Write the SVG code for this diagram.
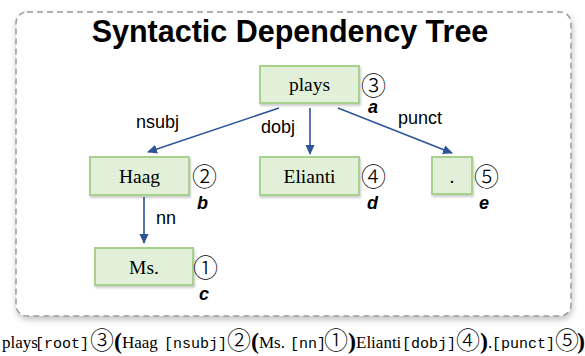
<svg xmlns="http://www.w3.org/2000/svg" width="585" height="356" viewBox="0 0 585 356">
<defs>
  <filter id="shadow" x="-10%" y="-10%" width="120%" height="130%">
    <feGaussianBlur in="SourceAlpha" stdDeviation="3"/>
    <feOffset dx="1" dy="3" result="b"/>
    <feComponentTransfer><feFuncA type="linear" slope="0.25"/></feComponentTransfer>
    <feMerge><feMergeNode/><feMergeNode in="SourceGraphic"/></feMerge>
  </filter>
  <filter id="nshadow" x="-10%" y="-10%" width="130%" height="140%">
    <feGaussianBlur in="SourceAlpha" stdDeviation="1"/>
    <feOffset dx="1" dy="1.5" result="b"/>
    <feComponentTransfer><feFuncA type="linear" slope="0.2"/></feComponentTransfer>
    <feMerge><feMergeNode/><feMergeNode in="SourceGraphic"/></feMerge>
  </filter>
  <marker id="arr" markerWidth="10" markerHeight="10" refX="9" refY="5" orient="auto" markerUnits="userSpaceOnUse">
    <path d="M0,0.5 L10,5 L0,9.5 Z" fill="#2f5597"/>
  </marker>
  <style>
    .node rect { fill: #e2f0d9; stroke: #a9d18e; stroke-width: 2; }
    .word { font-family: "Liberation Serif", "Times New Roman", serif; font-size: 19.5px; fill: #000; text-anchor: middle; }
    .circ { font-family: "Noto Sans CJK JP", "DejaVu Sans", sans-serif; font-size: 25px; font-weight: 300; fill: #000; }
    .tag { font-family: "Liberation Sans", Arial, sans-serif; font-size: 18px; font-weight: bold; font-style: italic; fill: #000; }
    .lbl { font-family: "Liberation Sans", Arial, sans-serif; font-size: 18px; fill: #000; }
    .edge { stroke: #2f5597; stroke-width: 1.6; fill: none; marker-end: url(#arr); }
    .bs { font-family: "Liberation Serif", "Times New Roman", serif; font-size: 17px; }
    .bm { font-family: "Liberation Mono", "Courier New", monospace; font-size: 15px; }
    .bc { font-family: "Noto Sans CJK JP", "DejaVu Sans", sans-serif; font-size: 24px; font-weight: 300; }
    .bp { font-family: "Liberation Serif", "Times New Roman", serif; font-size: 24px; font-weight: bold; }
  </style>
</defs>

<g id="frame">
  <rect x="16" y="12" width="555" height="304" rx="11" ry="11" fill="#ffffff" stroke="#9a9a9a" stroke-width="1.5" stroke-dasharray="6,4" filter="url(#shadow)"/>
  <text x="290" y="42" font-family="Liberation Sans, Arial, sans-serif" font-size="30.5" font-weight="bold" text-anchor="middle" fill="#000">Syntactic Dependency Tree</text>
</g>

<g id="connectors">
  <line class="edge" x1="279" y1="108" x2="148" y2="152"/>
  <text class="lbl" x="136" y="128">nsubj</text>
  <line class="edge" x1="310" y1="108" x2="310" y2="154"/>
  <text class="lbl" x="261" y="133">dobj</text>
  <line class="edge" x1="338" y1="108" x2="452" y2="153"/>
  <text class="lbl" x="398" y="124">punct</text>
  <line class="edge" x1="144" y1="197" x2="144" y2="243"/>
  <text class="lbl" x="156" y="224">nn</text>
</g>

<g id="node-plays" class="node">
  <rect x="260" y="66" width="99" height="37" filter="url(#nshadow)"/>
  <text class="word" x="309.5" y="91">plays</text>
  <text class="circ" x="361" y="95">③</text>
  <text class="tag" x="368" y="113">a</text>
</g>

<g id="node-haag" class="node">
  <rect x="90" y="157" width="99" height="38" filter="url(#nshadow)"/>
  <text class="word" x="139.5" y="183">Haag</text>
  <text class="circ" x="192" y="186">②</text>
  <text class="tag" x="197" y="209">b</text>
</g>

<g id="node-elianti" class="node">
  <rect x="260" y="157" width="99" height="38" filter="url(#nshadow)"/>
  <text class="word" x="309.5" y="183">Elianti</text>
  <text class="circ" x="361" y="186">④</text>
  <text class="tag" x="367" y="209">d</text>
</g>

<g id="node-punct" class="node">
  <rect x="432" y="157" width="40" height="37" filter="url(#nshadow)"/>
  <text class="word" x="452" y="183">.</text>
  <text class="circ" x="474" y="186">⑤</text>
  <text class="tag" x="479" y="209">e</text>
</g>

<g id="node-ms" class="node">
  <rect x="95" y="248" width="98" height="37" filter="url(#nshadow)"/>
  <text class="word" x="144" y="274">Ms.</text>
  <text class="circ" x="193" y="277">①</text>
  <text class="tag" x="199" y="300">c</text>
</g>

<g id="linear-form" fill="#000">
  <text class="bs" x="2" y="348">plays</text>
  <text class="bm" x="35" y="348">[root]</text>
  <text class="bc" x="90" y="349">③</text>
  <text class="bp" x="114" y="349">(</text>
  <text class="bs" x="122" y="348">Haag</text>
  <text class="bm" x="164" y="348">[nsubj]</text>
  <text class="bc" x="227" y="349">②</text>
  <text class="bp" x="251" y="349">(</text>
  <text class="bs" x="259" y="348">Ms.</text>
  <text class="bm" x="290" y="348">[nn]</text>
  <text class="bc" x="324" y="349">①</text>
  <text class="bp" x="348" y="349">)</text>
  <text class="bs" x="356" y="348">Elianti</text>
  <text class="bm" x="402" y="348">[dobj]</text>
  <text class="bc" x="456" y="349">④</text>
  <text class="bp" x="480" y="349">)</text>
  <text class="bs" x="488" y="348">.</text>
  <text class="bm" x="492" y="348">[punct]</text>
  <text class="bc" x="555" y="349">⑤</text>
  <text class="bp" x="577" y="349">)</text>
</g>
</svg>
